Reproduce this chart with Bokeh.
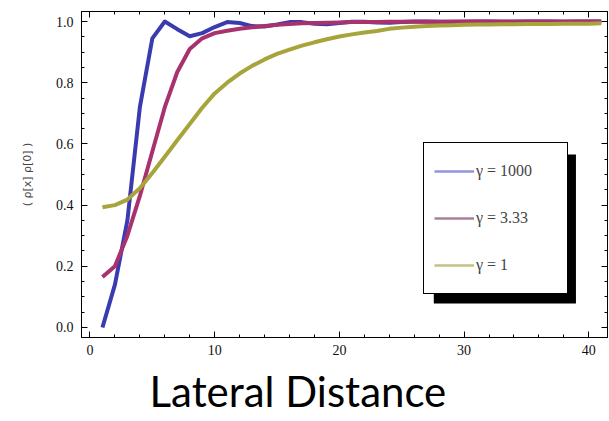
from bokeh.plotting import figure
from bokeh.models import (LinearAxis, SingleIntervalTicker, Legend, LegendItem,
                          BoxAnnotation, Range1d, PrintfTickFormatter,
                          CustomJSTickFormatter, Title)
from bokeh.embed import file_html
from bokeh.resources import INLINE

# ---- data ----
x = [1, 2, 3, 4, 5, 6, 7, 8, 9, 10, 11, 12, 13, 14, 15, 16, 17, 18, 19, 20,
     21, 22, 23, 24, 25, 26, 27, 28, 29, 30, 31, 32, 33, 34, 35, 36, 37, 38, 39, 40, 41]

gamma_1000 = [0.00, 0.14, 0.35, 0.72, 0.945, 1.00, 0.975, 0.952, 0.962, 0.982,
              0.998, 0.995, 0.985, 0.984, 0.990, 0.998, 0.998, 0.993, 0.991, 0.995,
              0.999, 0.999, 0.997, 0.996, 0.998, 1.000, 1.000, 0.999, 0.998, 0.999,
              1.000, 1.000, 0.999, 0.999, 1.000, 1.000, 1.000, 0.999, 1.000, 1.000, 1.000]

gamma_333 = [0.165, 0.20, 0.30, 0.43, 0.575, 0.72, 0.835, 0.91, 0.945, 0.962,
             0.970, 0.976, 0.981, 0.985, 0.989, 0.992, 0.994, 0.995, 0.996, 0.997,
             0.998, 0.998, 0.998, 0.999, 0.999, 0.999, 0.999, 0.999, 1.000, 1.000,
             1.000, 1.000, 1.000, 1.000, 1.000, 1.000, 1.000, 1.000, 1.000, 1.000, 1.000]

gamma_1 = [0.393, 0.400, 0.418, 0.455, 0.505, 0.558, 0.612, 0.665, 0.718, 0.765,
           0.800, 0.830, 0.855, 0.876, 0.894, 0.908, 0.921, 0.932, 0.942, 0.951,
           0.958, 0.964, 0.969, 0.976, 0.980, 0.983, 0.985, 0.987, 0.988, 0.989,
           0.990, 0.990, 0.991, 0.991, 0.992, 0.992, 0.992, 0.993, 0.993, 0.993, 0.994]

series = [gamma_1000, gamma_333, gamma_1]
labels = ["\u03b3 = 1000", "\u03b3 = 3.33", "\u03b3 = 1"]
line_colors = ["#3b3bb0", "#a8326e", "#a8a43c"]
legend_colors = ["#9393dc", "#a8809a", "#c4c284"]

x_label = "Lateral Distance"
y_label = "( \u03c1[x] \u03c1[0] )"

# ---- figure ----
p = figure(width=609, height=421, output_backend="svg", toolbar_location=None,
           x_range=Range1d(-0.68, 41.5), y_range=Range1d(-0.0327, 1.0327),
           min_border_left=81, min_border_top=11, min_border_right=2,
           min_border_bottom=84)
p.xgrid.visible = False
p.ygrid.visible = False
p.outline_line_color = "black"
p.outline_line_width = 1
p.background_fill_color = "white"

bottom = p.below[0]
left = p.left[0]

for ys, c in zip(series, line_colors):
    p.line(x, ys, line_color=c, line_width=4, line_join="round")

bottom.ticker = SingleIntervalTicker(interval=10, num_minor_ticks=5)
left.ticker = SingleIntervalTicker(interval=0.2, num_minor_ticks=4)
left.formatter = PrintfTickFormatter(format="%.1f")

top_axis = LinearAxis(ticker=SingleIntervalTicker(interval=10, num_minor_ticks=5),
                      formatter=CustomJSTickFormatter(code="return ''"),
                      major_label_standoff=0)
right_axis = LinearAxis(ticker=SingleIntervalTicker(interval=0.2, num_minor_ticks=4),
                        formatter=CustomJSTickFormatter(code="return ''"),
                        major_label_standoff=0)
p.add_layout(top_axis, "above")
p.add_layout(right_axis, "right")

for ax in (bottom, left, top_axis, right_axis):
    ax.major_tick_in = 6
    ax.major_tick_out = 0
    ax.minor_tick_in = 3
    ax.minor_tick_out = 0
    ax.axis_line_color = "black"
    ax.major_tick_line_color = "black"
    ax.minor_tick_line_color = "black"

for ax in (bottom, left):
    ax.major_label_text_font = "Liberation Serif"
    ax.major_label_text_color = "#111111"
    ax.major_label_text_font_size = "14px"
bottom.major_label_standoff = 7
left.major_label_standoff = 8

left.axis_label = y_label
left.axis_label_text_font = "DejaVu Sans"
left.axis_label_text_font_size = "11px"
left.axis_label_text_font_style = "normal"
left.axis_label_text_color = "#444444"
left.axis_label_standoff = 19

# big x title below the axis
p.add_layout(Title(text=x_label, align="left", offset=68, standoff=12,
                   text_font="Lato", text_font_size="42px",
                   text_line_height=0.6,
                   text_font_style="normal", text_color="black"), "below")

# ---- legend with drop shadow ----
shadow = BoxAnnotation(left=27.57, right=38.97, top=0.5654, bottom=0.0785,
                       fill_color="black", fill_alpha=1.0, line_alpha=0)
p.add_layout(shadow)

items = []
for lbl, c in zip(labels, legend_colors):
    r = p.line(x=[float("nan")], y=[float("nan")], line_color=c, line_width=2.5)
    items.append(LegendItem(label=lbl, renderers=[r]))

legend = Legend(items=items, location=(342, 43), padding=10, spacing=11,
                label_height=36, glyph_height=36, glyph_width=40, label_width=81,
                label_standoff=2, border_line_color="black", border_line_width=1,
                border_line_alpha=1, background_fill_color="white",
                background_fill_alpha=1, label_text_font="Liberation Serif",
                label_text_font_size="16px", margin=0)
p.add_layout(legend, "center")

open("out.html", "w").write(file_html(p, INLINE))
